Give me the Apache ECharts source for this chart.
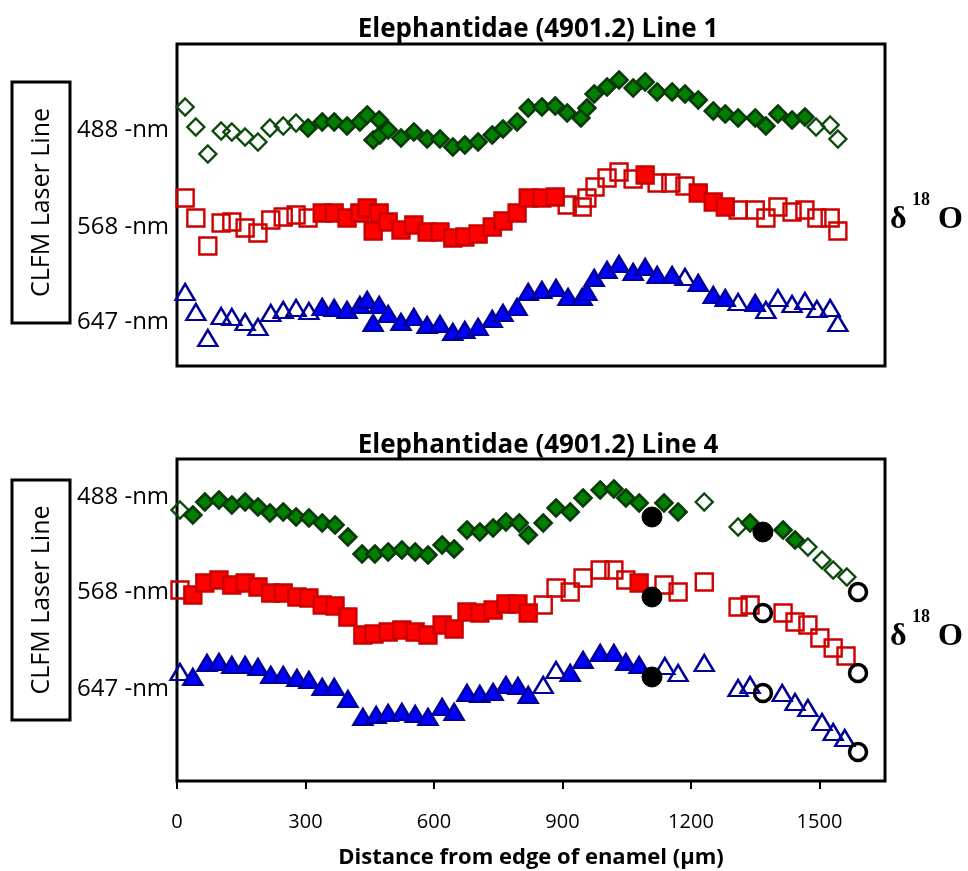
<!DOCTYPE html>
<html>
<head>
<meta charset="utf-8">
<script src="https://cdn.jsdelivr.net/npm/echarts@6/dist/echarts.min.js"></script>
<style>
  html, body { margin: 0; padding: 0; background: #fff; }
  #chart { width: 968px; height: 871px; }
</style>
</head>
<body>
<div id="chart"></div>
<script>
// x = distance from edge of enamel (µm), y = relative d18O signal (arbitrary units)
const xTicks = [0, 300, 600, 900, 1200, 1500];
const laserLabels = ['488 -nm', '568 -nm', '647 -nm'];

// Line 1 (top panel)
const line1GreenOpen = [[19,263],[44,243],[72,216],[103,239],[128,238],[159,233],[189,228],[217,242],[248,244],[278,247],[1492,243],[1525,245],[1543,231]];
const line1GreenFilled = [[306,242],[339,248],[367,248],[397,244],[427,248],[444,255],[472,250],[458,230],[474,235],[493,240],[523,232],[553,238],[584,231],[614,231],[644,223],[672,225],[703,228],[736,235],[761,241],[794,248],[820,262],[852,263],[883,264],[911,257],[943,252],[957,262],[974,276],[1004,283],[1032,290],[1065,282],[1093,288],[1121,278],[1156,278],[1186,276],[1217,270],[1252,259],[1280,256],[1310,252],[1350,252],[1375,244],[1403,256],[1436,250],[1466,253]];
const line1RedOpen = [[19,172],[44,152],[72,124],[103,147],[128,148],[159,142],[189,137],[219,150],[248,153],[278,155],[306,152],[911,165],[946,163],[957,172],[976,183],[1004,192],[1032,198],[1065,191],[1121,187],[1153,187],[1186,184],[1310,160],[1350,160],[1375,152],[1403,163],[1436,158],[1466,160],[1494,152],[1525,152],[1543,139]];
const line1RedFilled = [[339,157],[367,157],[397,152],[427,157],[444,162],[472,157],[458,139],[493,148],[523,140],[553,145],[584,138],[614,138],[644,132],[672,133],[703,136],[736,143],[761,149],[794,157],[820,172],[852,172],[883,173],[1093,195],[1217,177],[1252,168],[1280,163]];
const line1BlueOpen = [[19,78],[44,58],[72,32],[103,54],[128,53],[159,48],[189,43],[219,57],[248,60],[278,62],[308,59],[1186,93],[1310,68],[1375,60],[1403,72],[1436,66],[1466,69],[1494,61],[1525,62],[1543,47]];
const line1BlueFilled = [[339,63],[367,62],[397,60],[427,65],[444,70],[472,65],[458,47],[493,56],[523,48],[553,53],[584,45],[614,46],[644,38],[672,40],[703,43],[736,51],[761,57],[794,63],[820,78],[852,80],[885,82],[913,73],[946,73],[957,78],[974,92],[1004,100],[1032,106],[1065,98],[1093,103],[1121,95],[1156,95],[1217,87],[1252,75],[1280,72],[1350,67]];

// Line 4 (bottom panel)
const line4GreenOpen = [[7,271],[1231,279],[1310,254],[1473,234],[1506,221],[1532,211],[1564,204]];
const line4GreenFilled = [[37,266],[65,279],[98,281],[128,276],[159,279],[189,274],[217,268],[248,269],[278,264],[308,263],[339,258],[369,256],[399,244],[432,227],[462,227],[493,229],[525,231],[556,229],[586,226],[619,236],[647,232],[677,251],[707,249],[738,253],[768,259],[799,258],[820,246],[855,258],[885,273],[918,269],[948,283],[988,291],[1020,292],[1048,283],[1079,278],[1137,278],[1170,269],[1338,258],[1415,251],[1443,241]];
const line4RedOpen = [[7,191],[855,176],[885,193],[918,189],[948,203],[988,211],[1020,211],[1048,201],[1137,196],[1170,189],[1231,199],[1310,174],[1338,176],[1415,168],[1443,159],[1473,156],[1501,143],[1532,133],[1562,125]];
const line4RedFilled = [[37,186],[65,198],[98,201],[128,196],[159,198],[189,194],[219,188],[248,188],[280,184],[308,183],[339,176],[369,175],[399,164],[434,146],[460,147],[493,149],[525,151],[556,149],[586,146],[619,156],[647,152],[677,169],[707,168],[738,171],[768,177],[796,177],[820,168],[1079,198]];
const line4BlueOpen = [[7,109],[855,96],[885,111],[1139,115],[1170,108],[1231,118],[1310,93],[1338,96],[1413,88],[1443,79],[1473,73],[1506,59],[1532,49],[1559,43]];
const line4BlueFilled = [[37,104],[70,118],[98,119],[128,116],[159,116],[189,114],[219,106],[248,106],[280,103],[308,101],[339,94],[367,94],[399,82],[434,64],[465,66],[493,68],[525,69],[556,67],[586,64],[619,74],[647,69],[677,88],[707,87],[738,89],[768,96],[796,95],[820,86],[918,108],[948,121],[988,128],[1020,128],[1048,119],[1079,116]];
const line4CircleFilled = [[1109,264],[1368,249],[1109,184],[1109,104]];
const line4CircleOpen = [[1590,189],[1368,168],[1590,108],[1368,88],[1590,29]];

const FONT = 'Open Sans';

function scatter(name, data, panel, symbol, size, fill, stroke, bw) {
    return {
        name: name,
        type: 'scatter',
        xAxisIndex: panel,
        yAxisIndex: panel,
        data: data,
        symbol: symbol,
        symbolSize: size,
        itemStyle: { color: fill, borderColor: stroke, borderWidth: bw, opacity: 1 },
        emphasis: { disabled: true },
        silent: true
    };
}

function panelSeries(panel, g, r, b) {
    return [
        scatter('488 open', g[0], panel, 'diamond', 17, 'rgba(0,0,0,0)', '#0b4a0b', 2.4),
        scatter('488', g[1], panel, 'diamond', 17, '#007f00', '#0a3a0a', 2.6),
        scatter('568 open', r[0], panel, 'rect', 17, 'rgba(0,0,0,0)', '#cc0000', 2.4),
        scatter('568', r[1], panel, 'rect', 17, '#ff0000', '#cc0000', 2.4),
        scatter('647 open', b[0], panel, 'triangle', [19, 16], 'rgba(0,0,0,0)', '#000099', 2.4),
        scatter('647', b[1], panel, 'triangle', [19, 16], '#0000ff', '#000099', 2.4)
    ];
}

// Left-side label block and the d18O tag for one panel
function sideLabels(boxTop, boxH, rowYs, deltaY) {
    const items = [
        { type: 'rect', shape: { x: 12, y: boxTop, width: 58, height: boxH },
          style: { fill: '#fff', stroke: '#000', lineWidth: 3 } },
        { type: 'text', x: 42, y: boxTop + boxH / 2, rotation: Math.PI / 2,
          style: { text: 'CLFM Laser Line', fontSize: 25, fontFamily: FONT, fill: '#000',
                   align: 'center', verticalAlign: 'middle' } },
        { type: 'text', x: 890, y: deltaY,
          style: { text: 'δ', fontSize: 32, fontWeight: 'bold', fontFamily: 'Liberation Serif', fill: '#000',
                   align: 'left', verticalAlign: 'middle' } },
        { type: 'text', x: 912, y: deltaY - 20,
          style: { text: '18', fontSize: 18, fontWeight: 'bold', fontFamily: 'Liberation Serif', fill: '#000',
                   align: 'left', verticalAlign: 'middle' } },
        { type: 'text', x: 938, y: deltaY,
          style: { text: 'O', fontSize: 32, fontWeight: 'bold', fontFamily: 'Liberation Serif', fill: '#000',
                   align: 'left', verticalAlign: 'middle' } }
    ];
    laserLabels.forEach((t, i) => {
        items.push({ type: 'text', x: 77, y: rowYs[i],
            style: { text: t, fontSize: 24, fontFamily: FONT, fill: '#000', align: 'left', verticalAlign: 'middle' } });
    });
    return items;
}

const chart = echarts.init(document.getElementById('chart'), null, { renderer: 'canvas' });

const gridBase = { left: 177, width: 708, height: 322, show: true, borderColor: '#000', borderWidth: 3, backgroundColor: '#fff' };

const option = {
    animation: false,
    backgroundColor: '#fff',
    title: [
        { text: 'Elephantidae (4901.2) Line 1', left: 533, top: 12, textAlign: 'center',
          textStyle: { fontFamily: FONT, fontWeight: 'bold', fontSize: 26, color: '#000' } },
        { text: 'Elephantidae (4901.2) Line 4', left: 533, top: 428, textAlign: 'center',
          textStyle: { fontFamily: FONT, fontWeight: 'bold', fontSize: 26, color: '#000' } }
    ],
    grid: [
        Object.assign({ top: 44 }, gridBase),
        Object.assign({ top: 459 }, gridBase)
    ],
    xAxis: [
        { gridIndex: 0, type: 'value', min: 0, max: 1653, show: false, splitLine: { show: false } },
        { gridIndex: 1, type: 'value', min: 0, max: 1653,
          axisLine: { show: false },
          splitLine: { show: false },
          axisTick: { show: true, inside: false, length: 8, customValues: xTicks,
                      lineStyle: { color: '#000', width: 2 } },
          axisLabel: { customValues: xTicks, margin: 31, fontFamily: FONT, fontSize: 20, color: '#000',
                       formatter: v => String(v) },
          name: 'Distance from edge of enamel (µm)',
          nameLocation: 'middle',
          nameGap: 66,
          nameTextStyle: { fontFamily: FONT, fontWeight: 'bold', fontSize: 22, color: '#000' } }
    ],
    yAxis: [
        { gridIndex: 0, type: 'value', min: 4, max: 326, show: false, splitLine: { show: false } },
        { gridIndex: 1, type: 'value', min: 0, max: 322, show: false, splitLine: { show: false } }
    ],
    graphic: sideLabels(82, 241, [130, 227, 322], 220)
        .concat(sideLabels(480, 240, [497, 592, 689], 637)),
    series: []
        .concat(panelSeries(0,
            [line1GreenOpen, line1GreenFilled],
            [line1RedOpen, line1RedFilled],
            [line1BlueOpen, line1BlueFilled]))
        .concat(panelSeries(1,
            [line4GreenOpen, line4GreenFilled],
            [line4RedOpen, line4RedFilled],
            [line4BlueOpen, line4BlueFilled]))
        .concat([
            scatter('marked', line4CircleFilled, 1, 'circle', 20, '#000', '#000', 1),
            scatter('marked open', line4CircleOpen, 1, 'circle', 17, 'rgba(0,0,0,0)', '#000', 3.5)
        ])
};

chart.setOption(option);
</script>
</body>
</html>
